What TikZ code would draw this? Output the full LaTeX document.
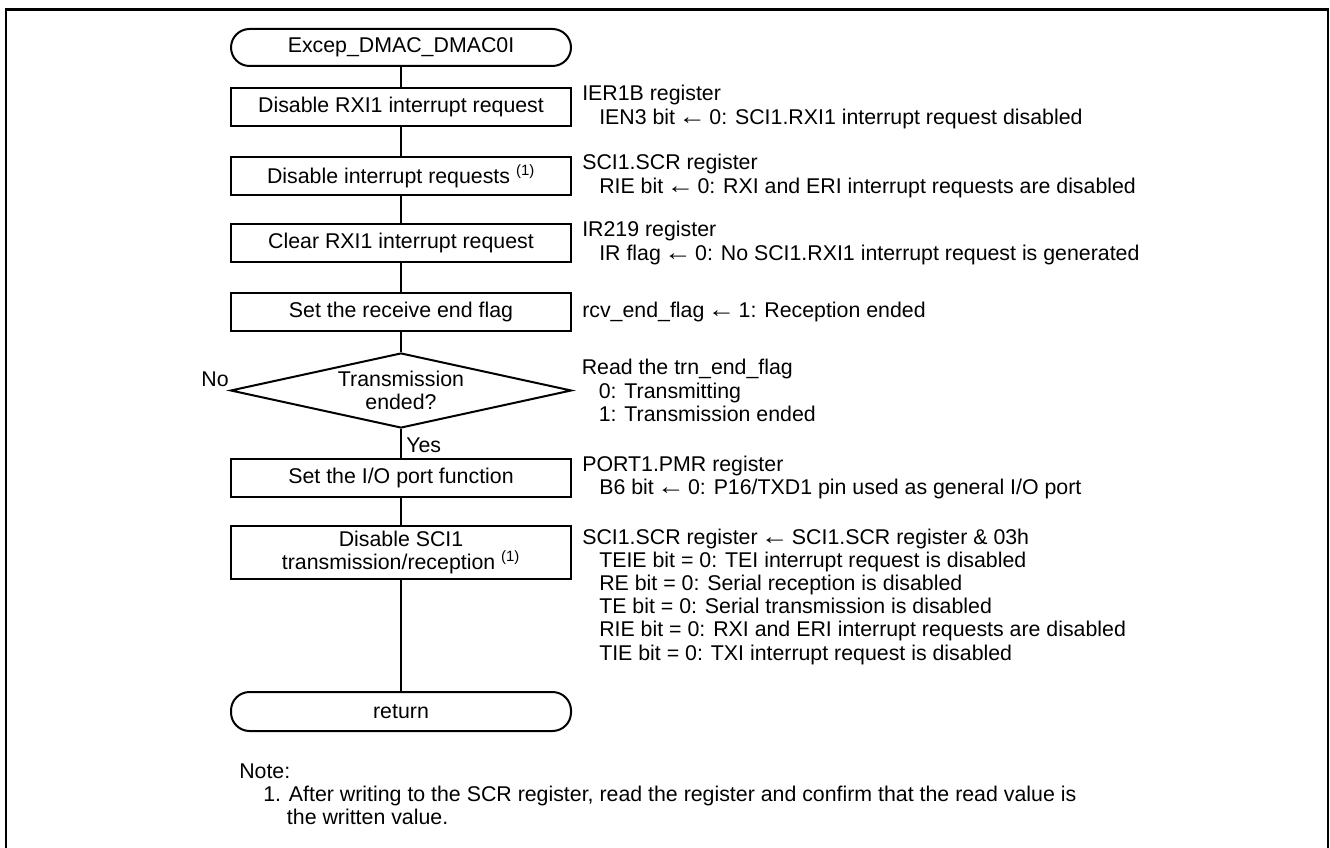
\documentclass[tikz,border=0pt]{standalone}
\usepackage{fontspec}
\setmainfont{Liberation Sans}
\usetikzlibrary{shapes.geometric,calc}
\newcommand\myind{\hspace*{12.75pt}}
\newcommand\larr{\kern-2pt\scalebox{1.3}[1.1]{←}\kern-2pt}
\begin{document}
\begin{tikzpicture}[x=0.75pt,y=-0.75pt,
  every node/.style={font=\fontsize{16}{17.4}\selectfont},
  proc/.style={draw,line width=1.5pt,minimum width=255pt,minimum height=28.5pt,inner sep=0pt,align=center},
  term/.style={proc,rounded corners=13.9pt},
  dec/.style={draw,line width=1.5pt,diamond,aspect=4.55,inner sep=0pt,minimum width=255.75pt,minimum height=56.25pt,align=center},
  rtext/.style={anchor=west,align=left,inner sep=0pt},
  lbl/.style={inner sep=0pt},
  conn/.style={line width=1.5pt}
]
\useasboundingbox (0,0) rectangle (1330,848);
\draw[line width=2pt] (6,860) -- (6,9.5) -- (1328,9.5) -- (1328,860);

\node[term,minimum height=27.75pt] (start) at (401,47.5) {Excep\_DMAC\_DMAC0I};
\node[proc] (b1) at (401,107) {Disable RXI1 interrupt request};
\node[proc] (b2) at (401,176) {Disable interrupt requests \textsuperscript{(1)}};
\node[proc] (b3) at (401,243) {Clear RXI1 interrupt request};
\node[proc] (b4) at (401,312) {Set the receive end flag};
\node[dec] (d) at (401,390.5) {Transmission\\ended?};
\node[proc] (b5) at (401,477.5) {Set the I/O port function};
\node[proc,minimum height=39.75pt] (b6) at (401,552.5) {Disable SCI1\\transmission/reception \textsuperscript{(1)}};
\node[term,minimum height=29.25pt] (ret) at (401,711.5) {return};

\draw[conn] (start) -- (b1);
\draw[conn] (b1) -- (b2);
\draw[conn] (b2) -- (b3);
\draw[conn] (b3) -- (b4);
\draw[conn] (b4) -- (d);
\draw[conn] (d) -- (b5);
\draw[conn] (b5) -- (b6);
\draw[conn] (b6) -- (ret);

\node[lbl,anchor=east] (no) at (229,379) {No};
\node[lbl,anchor=west] (yes) at (406,445) {Yes};

\node[rtext] (t1) at ($(b1.east)+(10,0)$) {IER1B register\\\myind IEN3 bit \larr{} 0: SCI1.RXI1 interrupt request disabled};
\node[rtext] (t2) at ($(b2.east)+(10,0)$) {SCI1.SCR register\\\myind RIE bit \larr{} 0: RXI and ERI interrupt requests are disabled};
\node[rtext] (t3) at ($(b3.east)+(10,0)$) {IR219 register\\\myind IR flag \larr{} 0: No SCI1.RXI1 interrupt request is generated};
\node[rtext] (t4) at ($(b4.east)+(10,0)$) {rcv\_end\_flag \larr{} 1: Reception ended};
\node[rtext] (t5) at ($(d.east)+(9,0)$) {Read the trn\_end\_flag\\\myind 0: Transmitting\\\myind 1: Transmission ended};
\node[rtext] (t6) at ($(b5.east)+(10,0)$) {PORT1.PMR register\\\myind B6 bit \larr{} 0: P16/TXD1 pin used as general I/O port};
\node[rtext,anchor=north west] (t7) at ($(b6.north east)+(10,3.3)$) {SCI1.SCR register \larr{} SCI1.SCR register \& 03h\\\myind TEIE bit = 0: TEI interrupt request is disabled\\\myind RE bit = 0: Serial reception is disabled\\\myind TE bit = 0: Serial transmission is disabled\\\myind RIE bit = 0: RXI and ERI interrupt requests are disabled\\\myind TIE bit = 0: TXI interrupt request is disabled};

\node[rtext,anchor=north west] (note) at (239,763.3) {Note:\\\hspace*{18pt}1. After writing to the SCR register, read the register and confirm that the read value is\\\hspace*{18pt}\phantom{1.\ }the written value.};
\end{tikzpicture}
\end{document}
